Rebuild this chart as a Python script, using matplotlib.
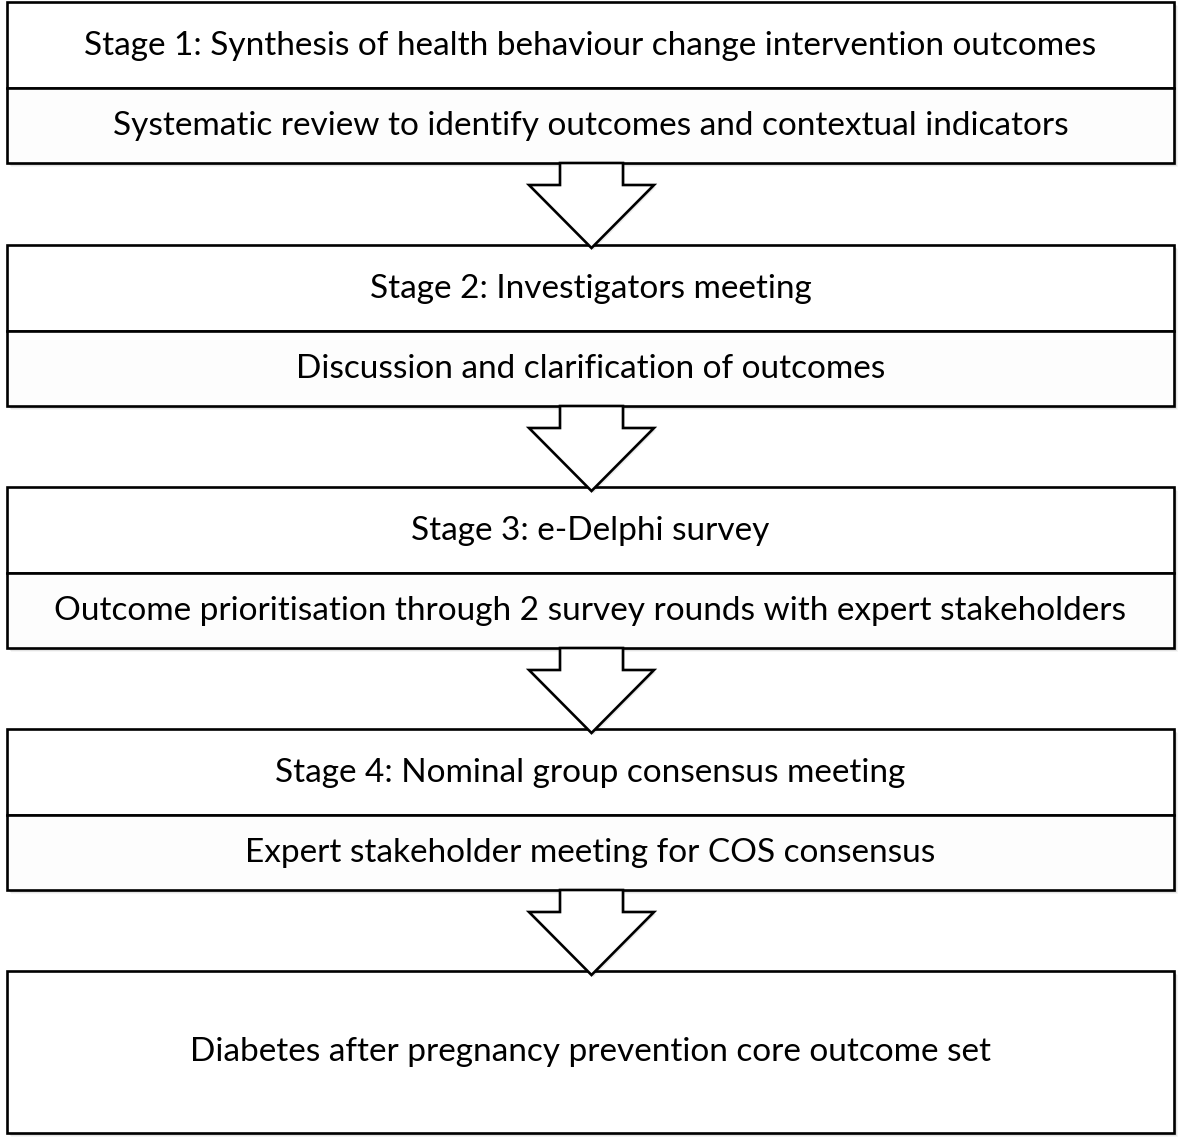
import matplotlib
matplotlib.use("Agg")
import matplotlib.pyplot as plt
from matplotlib.patches import Rectangle, Polygon

stage_titles = [
    "Stage 1: Synthesis of health behaviour change intervention outcomes",
    "Stage 2: Investigators meeting",
    "Stage 3: e-Delphi survey",
    "Stage 4: Nominal group consensus meeting",
]
stage_details = [
    "Systematic review to identify outcomes and contextual indicators",
    "Discussion and clarification of outcomes",
    "Outcome prioritisation through 2 survey rounds with expert stakeholders",
    "Expert stakeholder meeting for COS consensus",
]
final_text = "Diabetes after pregnancy prevention core outcome set"

W, H = 1181, 1146
fig = plt.figure(figsize=(W / 100, H / 100), dpi=100)
ax = fig.add_axes([0, 0, 1, 1])
ax.set_xlim(0, W)
ax.set_ylim(H, 0)
ax.axis("off")

FONT = ["Lato", "DejaVu Sans"]
FS = 24
LW = 1.9
x0, x1 = 7, 1174
tops = [2, 245, 487, 729]
row_h = [86, 76]
box_h = 161
final_top, final_bot = 971, 1133


def shadow(x, y, w, h):
    for i, a in enumerate([0.10, 0.07, 0.04]):
        ax.add_patch(Rectangle((x + 2 + i, y + 2 + i), w, h, facecolor="black",
                               edgecolor="none", alpha=a, zorder=1))


for i, (t, d) in enumerate(zip(stage_titles, stage_details)):
    top = tops[i]
    mid = top + row_h[0]
    bot = top + box_h
    shadow(x0, top, x1 - x0, box_h)
    ax.add_patch(Rectangle((x0, top), x1 - x0, row_h[0], facecolor="white",
                           edgecolor="black", lw=LW, zorder=2))
    ax.add_patch(Rectangle((x0, mid), x1 - x0, bot - mid, facecolor="#fdfdfd",
                           edgecolor="black", lw=LW, zorder=2))
    ax.text((x0 + x1) / 2, top + 44, t, ha="center", va="center",
            fontsize=FS, family=FONT, zorder=5)
    ax.text((x0 + x1) / 2, mid + 38, d, ha="center", va="center",
            fontsize=FS, family=FONT, zorder=5)

    # arrow below
    sy = bot
    hy = bot + 22
    ty = bot + 85
    pts = [(560, sy), (623, sy), (623, hy), (654, hy), (591.5, ty),
           (529, hy), (560, hy)]
    ax.add_patch(Polygon([(px + 2, py + 2) for px, py in pts], closed=True,
                         facecolor="black", edgecolor="none", alpha=0.08, zorder=6))
    ax.add_patch(Polygon(pts, closed=True, facecolor="white", edgecolor="black",
                         lw=LW, joinstyle="miter", zorder=7))

shadow(x0, final_top, x1 - x0, final_bot - final_top)
ax.add_patch(Rectangle((x0, final_top), x1 - x0, final_bot - final_top,
                       facecolor="white", edgecolor="black", lw=LW, zorder=2))
ax.text((x0 + x1) / 2, (final_top + final_bot) / 2, final_text, ha="center",
        va="center", fontsize=FS, family=FONT, zorder=5)

fig.savefig("out.png", dpi=100, facecolor="white")
